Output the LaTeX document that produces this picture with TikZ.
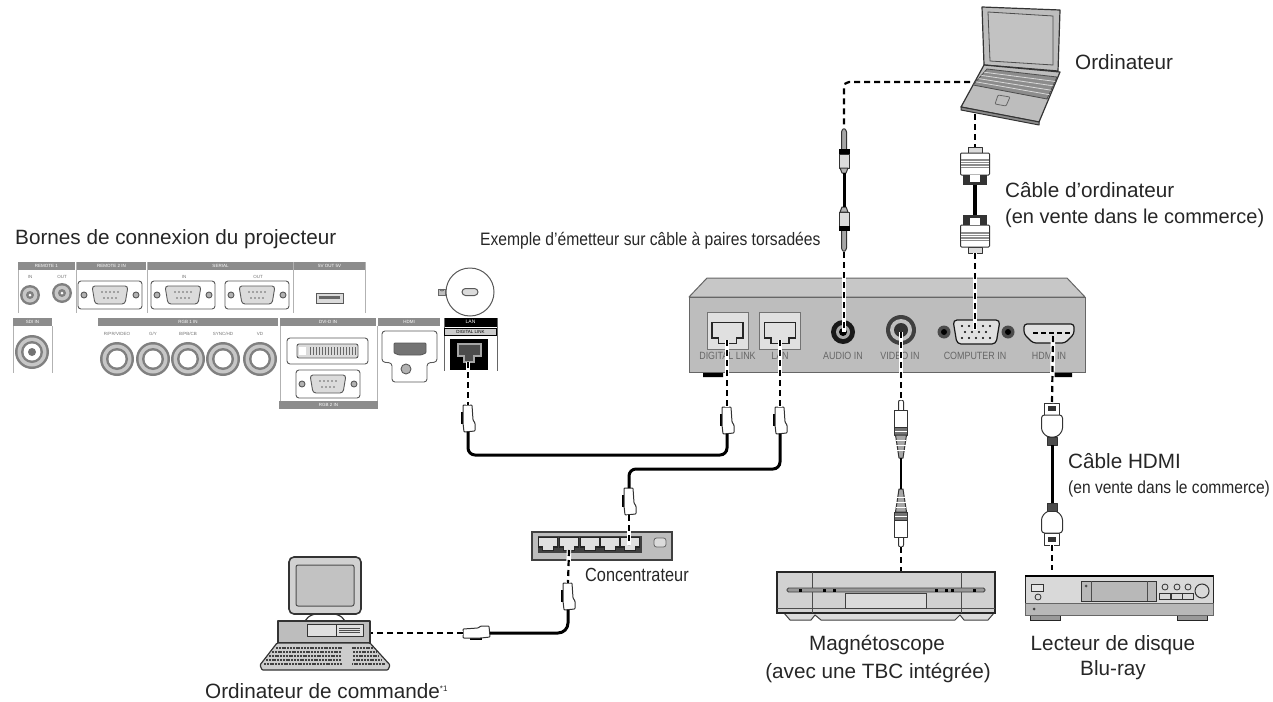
\documentclass[tikz,border=0pt]{standalone}
\usepackage{fontspec}
\setmainfont{Liberation Sans}
\usetikzlibrary{calc}
\colorlet{ink}{black!85}
\colorlet{gry}{black!55}
\colorlet{hdg}{black!45}
\colorlet{boxf}{black!26}
\colorlet{boxt}{black!22}
\colorlet{lgt}{black!14}
\tikzset{
    lab/.style={text=ink,inner sep=0pt,font=\fontsize{20.7}{24}\selectfont},
    nar/.style={text=ink,inner sep=0pt,transform shape},
    hdr/.style={fill=hdg,text=white,inner sep=0pt,minimum height=8pt,font=\fontsize{4.5}{5}\selectfont},
    tag/.style={text=gry,inner sep=0pt,font=\fontsize{4.5}{5}\selectfont},
    prt/.style={text=black!60,inner sep=0pt,xscale=.85,transform shape,font=\fontsize{10.5}{12}\selectfont},
    pan/.style={black!65,line width=.9pt},
    sep/.style={black!30,line width=1pt},
    link/.style={black,line width=2.2pt,dash pattern=on 6pt off 4pt,
        preaction={draw=white,solid,line width=4.5pt}},
    cord/.style={black,line width=3pt,rounded corners=7pt},
    outl/.style={black!80,line width=1pt,line join=round},
    rjplug/.pic={
        \draw [black,line width=2pt] (-6,7) -- (-6,19);
        \draw [outl,fill=white,rounded corners=.8pt] (-5,0) -- (4,0) -- (5,15) -- (7,18) -- (7,26)
            -- (-4,27) -- (-5,18) -- cycle;
        \coordinate (-top) at (0,0);
        \coordinate (-bot) at (0,27);
    },
    jack/.pic={
        \draw [outl,fill=black!35,rounded corners=1pt] (-2.5,21) -- (-2.5,3) -- (0,0) -- (2.5,3) -- (2.5,21);
        \draw [outl,fill=lgt] (-5,26) rectangle (5,40);
        \fill [black] (-5.5,21) rectangle (5.5,26);
        \draw [outl,fill=black!30] (-4,40) -- (4,40) -- (2,45) -- (-2,45) -- cycle;
        \coordinate (-top) at (0,0);
        \coordinate (-bot) at (0,45);
    },
    vgaplug/.pic={
        \draw [outl,fill=lgt] (-7,0) rectangle (7,6);
        \draw [outl,fill=white,rounded corners=1pt] (-14.5,6) rectangle (14.5,28);
        \fill [black!45] (-14,12) rectangle (14,21);
        \foreach \y in {14,16.5,19} {\draw [white,line width=.6pt] (-14,\y) -- (14,\y);}
        \fill [black!80] (-12,28) rectangle (12,38);
        \fill [white] (-5,28) rectangle (5,35);
        \coordinate (-top) at (0,0);
        \coordinate (-bot) at (0,38);
    },
    rcaplug/.pic={
        \draw [outl,fill=white,rounded corners=2pt] (-2.5,11) -- (-2.5,0) -- (2.5,0) -- (2.5,11);
        \draw [outl,fill=white] (-6.5,10) rectangle (6.5,27);
        \draw [outl,fill=black!55] (-6.5,27) rectangle (6.5,35);
        \draw [white,line width=.7pt] (-6,31) -- (6,31);
        \draw [outl,fill=black!35] (-5.5,35) -- (5.5,35) -- (2,58) -- (-2,58) -- cycle;
        \foreach \y in {40,45,50} {\draw [white,line width=.7pt] (-5,\y) -- (5,\y);}
        \coordinate (-top) at (0,0);
        \coordinate (-bot) at (0,58);
    },
    hdmiplug/.pic={
        \draw [outl,fill=white] (-7.5,0) rectangle (7.5,12);
        \fill [black!80] (-4,3) rectangle (4,8);
        \draw [outl,fill=white,rounded corners=3pt] (-10.5,12) -- (10.5,12) -- (10.5,28) -- (5,34) -- (-5,34)
            -- (-10.5,28) -- cycle;
        \draw [outl,fill=black!70] (-5,34) rectangle (5,42);
        \coordinate (-top) at (0,0);
        \coordinate (-bot) at (0,42);
    },
    bnc/.pic={
        \fill [black!50] (0,0) circle [radius=#1];
        \fill [black!22] (0,0) circle [radius=#1-2.5];
        \fill [black!50] (0,0) circle [radius=#1-6];
        \fill [white] (0,0) circle [radius=#1-8.5];
    },
    dsub/.pic={
        \draw [pan,fill=white,rounded corners=3pt] (-32,-14) rectangle (32,14);
        \draw [pan,fill=lgt,rounded corners=3pt] (-18,-9) -- (18,-9) -- (15,9) -- (-15,9) -- cycle;
        \foreach \x in {-1,1} {\draw [pan,fill=black!30] (\x*26,0) circle [radius=3];}
        \foreach \x in {-8,-4,0,4,8} {\fill [black!60] (\x,-3) circle [radius=.8];}
        \foreach \x in {-6,-2,2,6} {\fill [black!60] (\x,3) circle [radius=.8];}
    },
    rjport/.pic={
        \draw [black!85,line width=1.3pt,fill=black!12] (-15.5,-10.5) -- (15.5,-10.5) -- (15.5,5) -- (9,5)
            -- (9,10.5) -- (-9,10.5) -- (-9,5) -- (-15.5,5) -- cycle;
    }
}

\begin{document}
\begin{tikzpicture}[x=1pt,y=-1pt]
    \useasboundingbox (0,0) rectangle (1273,701);
    % projector terminals
    \foreach \n/\x/\y/\w/\t in {
        rema/46.5/265.5/57/REMOTE 1,remb/111.5/265.5/69/REMOTE 2 IN,ser/220.5/265.5/145/SERIAL,
        usb/329.5/265.5/71/5V OUT 5V,sdi/32.5/322/39/SDI IN,rgba/188/322/180/RGB 1 IN,
        dvi/328/322/96/DVI-D IN,hdm/409/322/62/HDMI,rgbb/328.5/405/99/RGB 2 IN} {
        \node [hdr,minimum width=\w] (hdr\n) at (\x,\y) {\t};
    }
    \draw [sep] (18,270) -- (18,313) (76,262) -- (76,313) (147,262) -- (147,313)
        (293.5,262) -- (293.5,313) (365,262) -- (365,313)
        (13,326) -- (13,373) (52,326) -- (52,373);
    \foreach \n/\x/\t in {a/30/IN,b/62/OUT} {\node [tag] (tag\n) at (\x,277) {\t};}
    \node [tag] (tagin) at (184,277) {IN};
    \node [tag] (tagout) at (258,277) {OUT};
    \pic at (30,295) {bnc=10};
    \pic at (62,293) {bnc=10};
    \pic at (32,352) {bnc=17};
    \fill [black!55] (32,352) circle [radius=4];
    \foreach \x in {110,183,257} {\pic at (\x,295) {dsub};}
    \draw [pan,fill=lgt] (316,293) rectangle (343,303);
    \fill [black!60] (319,296) rectangle (340,299);
    \foreach \n/\x/\t in {a/117/{R/PR/VIDEO},b/153/{G/Y},c/188/{B/PB/CB},d/223/{SYNC/HD},e/260/{VD}} {
        \node [tag] (rgbtag\n) at (\x,334) {\t};
        \pic at (\x,359) {bnc=17};
    }
    \draw [pan,fill=white,rounded corners=3pt] (287,338) rectangle (368,364);
    \draw [pan,fill=lgt,rounded corners=2pt] (297,344) rectangle (358,358);
    \fill [white] (299,347) rectangle (306,355);
    \foreach \x in {310,313,...,355} {\draw [black!60,line width=.8pt] (\x,347) -- (\x,355);}
    \pic at (328,384) {dsub};
    \draw [sep] (280,326) -- (280,401) (377,326) -- (377,401);
    \draw [pan,fill=white,rounded corners=3pt] (382,331) -- (437,331) -- (437,362) -- (427,363) -- (427,382)
        -- (392,382) -- (392,363) -- (382,362) -- cycle;
    \draw [pan,fill=black!55,rounded corners=1pt] (394,343) -- (426,343) -- (426,353) -- (421,355) -- (399,355)
        -- (394,353) -- cycle;
    \draw [pan,fill=black!30] (406,369) circle [radius=5];
    \draw [black!60,line width=1pt] (444,318) -- (444,371) (497,318) -- (497,371);
    \node [fill=black,text=white,inner sep=0pt,minimum width=52pt,minimum height=9pt,
        font=\fontsize{5}{6}\selectfont] (lanhdr) at (470.5,322) {LAN};
    \node [draw=black,fill=black!20,text=black,inner sep=0pt,minimum width=52pt,minimum height=7pt,
        font=\fontsize{4.5}{5}\selectfont] (dlhdr) at (470.5,332) {DIGITAL LINK};
    \fill [black] (450,339) rectangle (488,370);
    \draw [black!35,line width=1.4pt,fill=black!70] (458,344) -- (481,344) -- (481,356) -- (474,356) -- (474,362)
        -- (464,362) -- (464,356) -- (458,356) -- cycle;
    \draw [black!65,line width=1pt] (470,292) circle [radius=24];
    \draw [black!65,line width=1pt,fill=lgt,rounded corners=3.5pt] (462,288.5) rectangle (478,295.5);
    \draw [black!60,fill=black!25,line width=.6pt] (438.5,289) rectangle (445.5,295);
    \draw [black!60,line width=.8pt] (440,289) arc [start angle=180,end angle=0,radius=2];
    \coordinate (lanprj) at (468,362);
    \node [lab,anchor=base west] (terminals) at (15,244) {Bornes de connexion du projecteur};
    \node [nar,anchor=west,xscale=.87,font=\fontsize{18}{21}\selectfont] (txhead) at (480,241)
        {Exemple d'émetteur sur câble à paires torsadées};
    % transmitter
    \fill [black] (703,372) rectangle (723,377) (1050,372) rectangle (1072,377);
    \draw [black!60,fill=boxt,line width=1pt,line join=round] (689,297) -- (707,278) -- (1067,278) -- (1085,297) -- cycle;
    \draw [black!60,fill=boxf,line width=1pt] (689,297) rectangle (1085,372);
    \foreach \n/\x in {dl/727.5,ln/780} {
        \draw [black!55,fill=black!12,line width=1pt] (\x-20.5,312) rectangle (\x+20.5,349);
        \pic at (\x,333) {rjport};
    }
    \fill [black!90] (843,332) circle [radius=12];
    \fill [black!35] (843,332) circle [radius=7];
    \fill [black] (843,332) circle [radius=4];
    \fill [black!75] (901,330) circle [radius=15];
    \fill [black!25] (901,330) circle [radius=11];
    \fill [black!80] (901,330) circle [radius=7];
    \foreach \x in {944,1008} {
        \fill [black!70] (\x,332) circle [radius=6.5];
        \fill [black] (\x,332) circle [radius=3];
    }
    \draw [black!90,line width=1.2pt,fill=black!12,rounded corners=4pt] (953,320) -- (1000,320) -- (996,344) -- (957,344) -- cycle;
    \foreach \x in {962,969,...,991} {\fill [black] (\x,326) circle [radius=1.1];}
    \foreach \x in {965,972,...,988} {\fill [black] (\x,332) circle [radius=1.1];}
    \foreach \x in {962,969,...,991} {\fill [black] (\x,338) circle [radius=1.1];}
    \draw [black!90,line width=1.2pt,fill=black!12,rounded corners=3pt] (1024,324) -- (1074,324) -- (1074,334) -- (1065,343)
        -- (1033,343) -- (1024,334) -- cycle;
    \foreach \x in {1033,1041,...,1065} {\draw [black,line width=1.6pt] (\x,333) -- (\x+5,333);}
    \foreach \n/\x/\t in {a/727.5/DIGITAL LINK,b/780/LAN,c/843/AUDIO IN,d/900/VIDEO IN,e/975/COMPUTER IN,f/1049/HDMI IN} {
        \node [prt] (port\n) at (\x,356) {\t};
    }
    \coordinate (dlport) at (727,340);
    \coordinate (lnport) at (780,340);
    \coordinate (audport) at (844,332);
    \coordinate (vidport) at (901,332);
    \coordinate (vgaport) at (975,330);
    \coordinate (hdmport) at (1053,336);
    % laptop
    \draw [outl,line width=1.2pt,fill=boxf] (982,7) -- (1060,10) -- (1058,71) -- (984,65) -- cycle;
    \draw [black!70,fill=black!24,line width=.8pt] (988,12) -- (1053,16) -- (1053,65) -- (990,61) -- cycle;
    \draw [outl,line width=1.2pt,fill=boxf] (984,65) -- (1060,72) -- (1039,122) -- (961,107) -- cycle;
    \draw [outl,fill=black!45] (961,107) -- (1039,122) -- (1039,125) -- (961,110) -- cycle;
    \draw [black!70,fill=black!45,line width=.8pt] (987,69) -- (1057,77) -- (1047,99) -- (973,85) -- cycle;
    \foreach \t in {.2,.4,.6,.8} {
        \draw [black!15,line width=.8pt] ($(987,69)!\t!(973,85)$) -- ($(1057,77)!\t!(1047,99)$);
    }
    \draw [black!60,line width=.8pt,rounded corners=1pt] (998,95) -- (1010,97) -- (1006,106) -- (995,104) -- cycle;
    \coordinate (lapside) at (970,82);
    \coordinate (lapfoot) at (975,114);
    \node [lab,anchor=west] (lapname) at (1075,62) {Ordinateur};
    % computer cable
    \node [lab,anchor=west] (vganame) at (1005,190) {Câble d'ordinateur};
    \node [lab,anchor=west,font=\fontsize{20}{24}\selectfont] (vgashop) at (1005,218) {(en vente dans le commerce)};
    \pic (vgaa) at (975,147) {vgaplug};
    \pic [yscale=-1] (vgab) at (975,253) {vgaplug};
    \draw [black,line width=4pt] (vgaa-bot) -- (vgab-bot);
    \draw [link] (lapfoot) -- (vgaa-top);
    \draw [link] (vgab-top) -- (vgaport);
    % audio cable
    \pic (auda) at (844,128) {jack};
    \pic [yscale=-1] (audb) at (844,252) {jack};
    \draw [black,line width=3pt] (auda-bot) -- (audb-bot);
    \draw [link,rounded corners=5pt] (lapside) -| (auda-top);
    \draw [link] (audb-top) -- (audport);
    % video cable
    \pic (vida) at (901,400) {rcaplug};
    \pic [yscale=-1] (vidb) at (901,547) {rcaplug};
    \draw [black,line width=2.5pt] (vida-bot) -- (vidb-bot);
    \coordinate (vcrtop) at (901,572);
    \draw [link] (vidport) -- (vida-top);
    \draw [link] (vidb-top) -- (vcrtop);
    % hdmi cable
    \pic (hdma) at (1052,403) {hdmiplug};
    \pic [yscale=-1] (hdmb) at (1052,545) {hdmiplug};
    \draw [black,line width=3pt] (hdma-bot) -- (hdmb-bot);
    \coordinate (bdtop) at (1052,570);
    \draw [link] (hdmport) -- (hdma-top);
    \draw [link] (hdmb-top) -- (bdtop);
    \node [lab,anchor=west] (hdmname) at (1068,461) {Câble HDMI};
    \node [nar,anchor=west,xscale=.89,font=\fontsize{17.5}{20}\selectfont] (hdmshop) at (1068,489) {(en vente dans le commerce)};
    % lan cables
    \pic (lana) at (468,405) {rjplug};
    \pic (lanb) at (727,407) {rjplug};
    \pic (lanc) at (780,407) {rjplug};
    \pic (land) at (629,488) {rjplug};
    \draw [link] (lanprj) -- (lana-top);
    \draw [link] (dlport) -- (lanb-top);
    \draw [link] (lnport) -- (lanc-top);
    \draw [cord] (lana-bot) |- (630,455) -| (lanb-bot);
    \draw [cord] (lanc-bot) |- (700,469) -| (land-top);
    % hub
    \draw [black!75,fill=boxf,line width=1.3pt] (532,532) rectangle (672,560);
    \fill [black!75] (538,536) rectangle (642,553);
    \foreach \x in {548,569,590,610,630} {\pic [scale=.6] at (\x,544) {rjport};}
    \draw [black!60,fill=lgt,line width=.8pt,rounded corners=2.5pt] (654,538) rectangle (666,547);
    \coordinate (hubup) at (629,545);
    \coordinate (hubdn) at (569,550);
    \draw [link] (land-bot) -- (hubup);
    \node [nar,anchor=west,xscale=.86,font=\fontsize{19}{22}\selectfont] (hubname) at (585,575) {Concentrateur};
    % control computer
    \draw [outl,line width=1.2pt] (305,621) .. controls (308,615) and (316,613) .. (325,613) .. controls (334,613) and (342,615) .. (345,621);
    \draw [black!80,line width=1.6pt,fill=black!18,rounded corners=5pt] (289,557) rectangle (361,614);
    \draw [black!70,line width=1pt,fill=black!24,rounded corners=2pt] (296,565) rectangle (354,606);
    \draw [outl,line width=1.2pt,fill=boxf] (278,621) rectangle (370,643);
    \draw [outl,fill=black!12] (307,624) rectangle (363,636);
    \draw [black!80,line width=.8pt] (336,624) -- (336,636);
    \foreach \y in {628,630,632} {\draw [black!70,line width=.7pt] (339,\y) -- (360,\y);}
    \draw [outl,line width=1.2pt,fill=black!20,rounded corners=1pt] (277,643) -- (370,643) -- (390,665) -- (388,670)
        -- (262,670) -- (260,665) -- cycle;
    \foreach \y/\a/\b in {648/276/373,652/272/376,656/269/379,660/266/382,664/264/385} {
        \draw [black!75,line width=2.4pt,dash pattern=on 2pt off .8pt] (\a,\y) -- (\b,\y);
    }
    \fill [black!20] (342,646) rectangle (352,667);
    \coordinate (pcside) at (371,633);
    \node [lab,anchor=base west] (pcname) at (205,698) {Ordinateur de commande\raisebox{7pt}{\fontsize{8}{9}\selectfont *1}};
    \pic (hubplug) at (568,583) {rjplug};
    \pic [rotate=90] (pcplug) at (463,633) {rjplug};
    \draw [link] (hubdn) -- (hubplug-top);
    \draw [cord,rounded corners=10pt] (hubplug-bot) |- (pcplug-bot);
    \draw [link] (pcplug-top) -- (pcside);
    % vcr
    \draw [black!75,line width=1pt,fill=black!14] (784,613) -- (790,620) -- (811,620) -- (815,615) -- (821,620) -- (955,620)
        -- (960,615) -- (964,620) -- (988,620) -- (994,613) -- cycle;
    \draw [black!85,line width=1.5pt,fill=black!18] (777,572) rectangle (995,613);
    \draw [black!70,line width=1pt] (812,572) -- (812,613) (961,572) -- (961,613) (777,608) -- (995,608);
    \draw [black!75,fill=black!40,line width=.8pt,rounded corners=1.5pt] (787,588) rectangle (985,592);
    \draw [black!75,fill=black!14,line width=1pt] (845,593) rectangle (926,608);
    \foreach \x in {799,823,833,935,945,951,973} {\fill [black] (\x,588.5) rectangle (\x+2.5,591.5);}
    \node [lab] (vcrname) at (877,645) {Magnétoscope};
    \node [lab] (vcrnote) at (878,673) {(avec une TBC intégrée)};
    % bluray
    \draw [black!85,line width=1pt,fill=black!40] (1030,615) rectangle (1060,620) (1177,615) rectangle (1207,620);
    \draw [black!85,line width=1pt,fill=black!15] (1025,575) rectangle (1213,615);
    \fill [black] (1025,574.5) rectangle (1213,576.5);
    \draw [black!60,fill=black!28,line width=.7pt] (1025,603) rectangle (1213,615);
    \draw [black!80,fill=black!28,line width=1pt] (1081,581) rectangle (1156,601);
    \draw [black!70,line width=.8pt] (1091,581) -- (1091,601) (1147,581) -- (1147,601);
    \fill [black!70] (1086,586) circle [radius=1.5];
    \draw [black!80,fill=black!10,line width=1pt] (1031,584) rectangle (1043,591);
    \draw [black!80,line width=.8pt] (1038,597) circle [radius=3];
    \foreach \x in {1165,1177,1188} {\draw [black!80,line width=.8pt] (\x,587) circle [radius=3];}
    \draw [black!80,line width=1pt] (1202,591) circle [radius=7];
    \foreach \x in {1159,1171,1182} {\draw [black!80,line width=.8pt] (\x,593) rectangle (\x+11,599);}
    \fill [black!75] (1034,609) circle [radius=1.5];
    \node [lab] (bdname) at (1113,645) {Lecteur de disque};
    \node [lab] (bdnote) at (1113,670) {Blu-ray};
\end{tikzpicture}
\end{document}
